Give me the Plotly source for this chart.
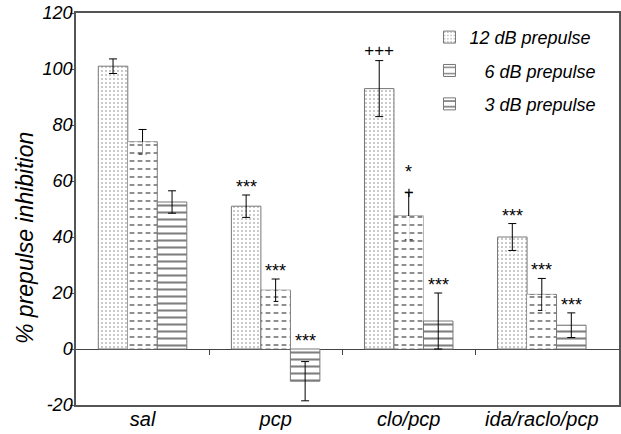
import plotly.graph_objects as go

categories = ["sal", "pcp", "clo/pcp", "ida/raclo/pcp"]
series_names = ["12 dB prepulse", "\u2007 6 dB prepulse", "\u2007 3 dB prepulse"]
v12 = [101, 51, 93, 40]
e12 = [2.6, 4, 10, 4.8]
v6 = [74, 21, 47.5, 19.5]
e6 = [4.4, 4, 8.5, 5.7]
v3 = [52.5, -11.5, 10, 8.5]
e3 = [4, 7, 10, 4.4]
sig12 = ["", "***", "+++", "***"]
sig6 = ["", "***", "*", "***"]
sig3 = ["", "***", "***", "***"]
mark6 = ["", "", "+", ""]
y_ticks = [-20, 0, 20, 40, 60, 80, 100, 120]
y_ticktext = ["-20", "0", "20", "40", "60", "80", "100", "120"]
boundary_ticks = [0.5, 1.5, 2.5]

FONT = "Liberation Sans"
bargap = 0.335
w = (1 - bargap) / 3

fig = go.Figure()
err = dict(type="data", thickness=1, width=4, color="black")

fig.add_trace(go.Bar(x=categories, y=v12, name=series_names[0], offsetgroup="a", legendgroup="a",
                     error_y=dict(array=e12, **err),
                     marker=dict(color="white", line=dict(color="#777", width=1),
                                 pattern=dict(shape=".", size=4, solidity=0.12, fgcolor="black", bgcolor="white"))))
fig.add_trace(go.Bar(x=categories, y=v6, name=series_names[1], offsetgroup="b", legendgroup="b",
                     error_y=dict(array=e6, **err),
                     marker=dict(color="white", line=dict(color="#777", width=1),
                                 pattern=dict(shape="-", size=8, solidity=0.22, fgcolor="black", bgcolor="white"))))
fig.add_trace(go.Bar(x=categories, y=v6, name="", offsetgroup="b", showlegend=False, hoverinfo="skip",
                     marker=dict(color="white", line=dict(width=0),
                                 pattern=dict(shape="|", size=8, solidity=0.4, fgcolor="white",
                                              fgopacity=1, bgcolor="rgba(255,255,255,0)"))))
fig.add_trace(go.Bar(x=categories, y=v3, name=series_names[2], offsetgroup="c", legendgroup="c",
                     error_y=dict(array=e3, **err),
                     marker=dict(color="white", line=dict(color="#777", width=1),
                                 pattern=dict(shape="-", size=7, solidity=0.3, fgcolor="black", bgcolor="white"))))
# invisible helper trace so the zero-line tick axis is drawn
fig.add_trace(go.Scatter(x=[0], y=[0], xaxis="x2", yaxis="y", mode="markers",
                         marker=dict(opacity=0), showlegend=False, hoverinfo="skip"))

anns = []
for k, (vals, errs, sig) in enumerate([(v12, e12, sig12), (v6, e6, sig6), (v3, e3, sig3)]):
    for i in range(len(categories)):
        if sig[i]:
            is_plus = "+" in sig[i]
            anns.append(dict(x=i + (k - 1) * w, y=max(vals[i] + errs[i], 0), xref="x", yref="y",
                             text=sig[i], showarrow=False, yanchor="bottom",
                             yshift=8 if sig[i] == "*" else (-1 if is_plus else -4),
                             font=dict(size=18 if not is_plus else 17, family=FONT, color="black",
                                       style="italic" if is_plus else "normal")))
for i in range(len(categories)):
    if mark6[i]:
        anns.append(dict(x=i, y=v6[i] + e6[i], xref="x", yref="y", text=mark6[i], showarrow=False,
                         yanchor="middle", font=dict(size=16, family=FONT, color="black", style="italic")))

anns.append(dict(x=-0.094, y=0.426, xref="paper", yref="paper", text="% prepulse inhibition",
                 textangle=-90, showarrow=False, xanchor="center", yanchor="middle",
                 font=dict(size=23, family=FONT, color="black", style="italic")))

fig.update_layout(
    width=621, height=434,
    margin=dict(l=76, r=2, t=13, b=29),
    paper_bgcolor="white", plot_bgcolor="white",
    barmode="group", bargap=bargap, bargroupgap=0,
    font=dict(family=FONT, color="black", style="italic"),
    annotations=anns,
    legend=dict(x=0.651, y=0.985, xanchor="left", yanchor="top", traceorder="grouped",
                tracegroupgap=7, font=dict(size=18, family=FONT, style="italic"),
                bgcolor="rgba(0,0,0,0)"),
    xaxis=dict(type="category", range=[-0.5, 3.58], showline=True, linecolor="#555", linewidth=1.5,
               mirror=True, ticks="", showgrid=False, automargin=False, ticklabelstandoff=-5,
               tickfont=dict(size=20, style="italic")),
    xaxis2=dict(overlaying="x", anchor="free", position=1 / 7, range=[-0.5, 3.58], type="linear",
                tickvals=boundary_ticks, ticks="outside", ticklen=5, tickcolor="#444",
                showticklabels=False, showline=False, showgrid=False, zeroline=False, automargin=False),
    yaxis=dict(range=[-20, 120], tickvals=y_ticks, ticktext=y_ticktext, showline=True, linecolor="#555",
               linewidth=1.5, mirror=True, ticks="outside", ticklen=4, tickcolor="#555", showgrid=False,
               zeroline=True, zerolinecolor="#444", zerolinewidth=1, automargin=False,
               ticklabelstandoff=-6, tickfont=dict(size=18, style="italic")),
)
fig.write_html("out.html", config={"displayModeBar": False},
               post_script="document.body.style.margin='0';")
